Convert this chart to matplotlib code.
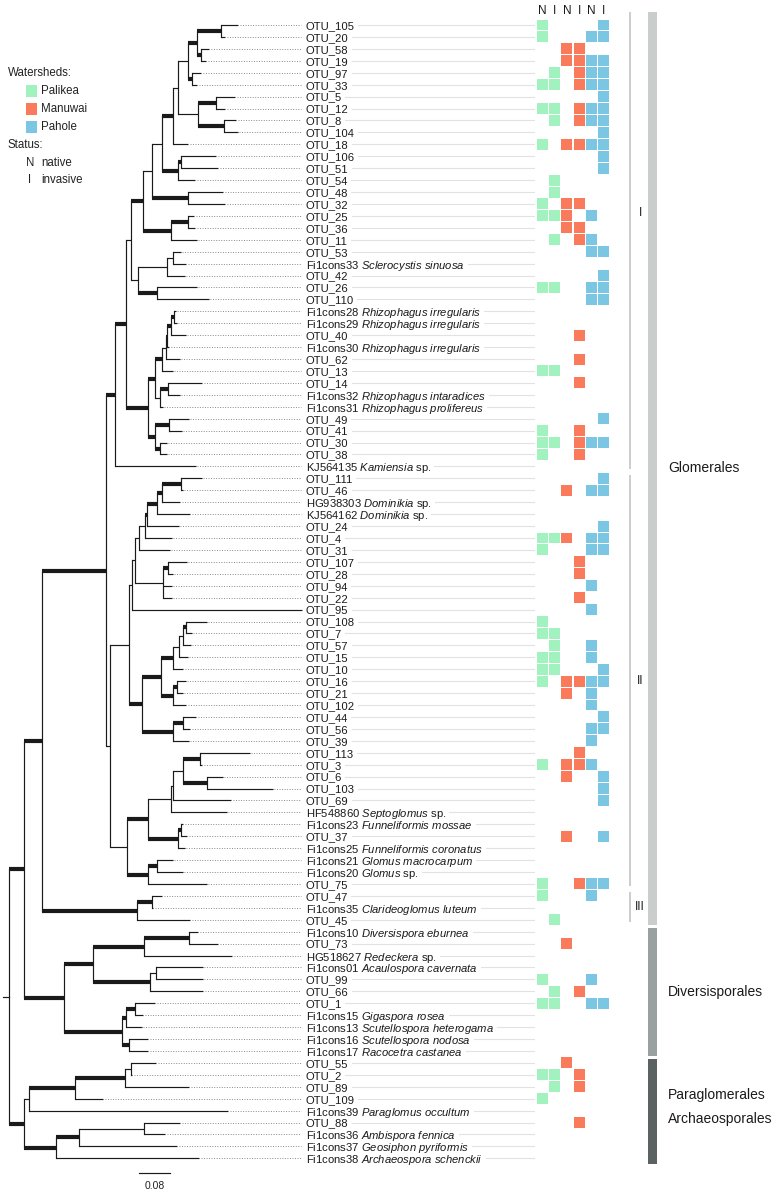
#!/usr/bin/env python3
"""
Phylogeny of AMF OTUs with watershed / status occurrence matrix.
"""

import matplotlib
matplotlib.use("Agg")
import matplotlib.pyplot as plt
from matplotlib.patches import Rectangle
from matplotlib.transforms import blended_transform_factory

plt.rcParams['font.family'] = ['Liberation Sans', 'DejaVu Sans']
plt.rcParams['mathtext.fontset'] = 'custom'
plt.rcParams['mathtext.rm'] = 'Liberation Sans'
plt.rcParams['mathtext.it'] = 'Liberation Sans:italic'

# ---- tree data (newick, branch lengths in subst./site, "b" = well supported edge) ----
CLADE_I = (
    "(((((((((((OTU_105:0.044,OTU_20:0.010)b:0.062,(OTU_58:0.021,OTU_19:0.013)b:0.010)b:0.023,"
    "(OTU_97:0.023,OTU_33:0.013)b:0.010):0.028,"
    "((OTU_5:0.049,OTU_12:0.023)b:0.046,(OTU_8:0.031,OTU_104:0.034)b:0.067):0.054):0.013,"
    "OTU_18:0.041)b:0.026,"
    "((OTU_106:0.090,OTU_51:0.095)b:0.010,OTU_54:0.046)b:0.039):0.026,"
    "(OTU_48:0.090,OTU_32:0.095)b:0.093):0.023,"
    "((OTU_25:0.015,OTU_36:0.018)b:0.044,OTU_11:0.065)b:0.072)b:0.031,"
    "(((OTU_53:0.021,Fi1cons33:0.036):0.013,OTU_42:0.044):0.075,"
    "(OTU_26:0.101,OTU_110:0.132)b:0.049):0.018):0.015,"
    "{rhizo})b:0.028,"
    "KJ564135:0.209)b:0.023"
)
RHIZO = (
    "(((((((Fi1cons28:0.005,Fi1cons29:0.008)b:0.008,OTU_40:0.039)b:0.008,Fi1cons30:0.005)b:0.005,"
    "OTU_62:0.036):0.010,OTU_13:0.028)b:0.018,"
    "((OTU_14:0.088,Fi1cons32:0.031)b:0.021,Fi1cons31:0.008):0.013)b:0.018,"
    "((OTU_49:0.052,OTU_41:0.034)b:0.036,(OTU_30:0.018,OTU_38:0.018)b:0.013)b:0.018)b:0.057"
)
CLADE_II = (
    "((((((((((OTU_111:0.052,OTU_46:0.003)b:0.049,HG938303:0.046)b:0.013,KJ564162:0.085)b:0.028,"
    "OTU_24:0.083)b:0.005,OTU_4:0.070):0.015,OTU_31:0.080):0.010,"
    "((OTU_107:0.049,OTU_28:0.013)b:0.013,OTU_94:0.023,OTU_22:0.023):0.072):0.008,"
    "OTU_95:0.439):0.008,"
    "{funnel}):0.049,"
    "{septo}):0.010"
)
FUNNEL = (
    "((((((OTU_108:0.054,OTU_7:0.015)b:0.008,OTU_57:0.021):0.010,OTU_15:0.023):0.015,"
    "OTU_10:0.026)b:0.031,((OTU_16:0.023,OTU_21:0.015)b:0.010,OTU_102:0.034)b:0.031)b:0.049,"
    "((OTU_44:0.034,OTU_56:0.018)b:0.026,OTU_39:0.041)b:0.080)b:0.034"
)
SEPTO = (
    "((((((OTU_113:0.127,OTU_3:0.005)b:0.044,(OTU_6:0.039,OTU_103:0.168)b:0.062):0.028,"
    "OTU_69:0.152):0.005,HF548860:0.145):0.059,"
    "((Fi1cons23:0.005,OTU_37:0.015)b:0.010,Fi1cons25:0.018)b:0.077)b:0.054,"
    "((Fi1cons21:0.041,Fi1cons20:0.067)b:0.023,OTU_75:0.152)b:0.054):0.044"
)
CLADE_III = "((OTU_47:0.026,Fi1cons35:0.003)b:0.039,OTU_45:0.137)b:0.245"
DIVERSI = (
    "((((Fi1cons10:0.023,OTU_73:0.075)b:0.116,HG518627:0.227)b:0.132,"
    "((Fi1cons01:0.121,OTU_99:0.121):0.015,OTU_66:0.137)b:0.147)b:0.075,"
    "(((OTU_1:0.052,Fi1cons15:0.021)b:0.023,Fi1cons13:0.041)b:0.010,"
    "(Fi1cons16:0.049,Fi1cons17:0.049)b:0.018)b:0.150)b:0.103"
)
PARA = "((((OTU_55:0.065,OTU_2:0.003):0.015,OTU_89:0.165)b:0.129,OTU_109:0.072)b:0.119,Fi1cons39:0.514):0.013"
ARCH = "(((OTU_88:0.093,Fi1cons36:0.054):0.168,Fi1cons37:0.253)b:0.059,Fi1cons38:0.369)b:0.083"
BACKBONE = "(((({I},{II})b:0.165,{III})b:0.046,{DIV})b:0.039,({PARA},{ARCH})b:0.039):0.016;"

SPECIES = {
    "Fi1cons33": "Sclerocystis sinuosa", "Fi1cons28": "Rhizophagus irregularis",
    "Fi1cons29": "Rhizophagus irregularis", "Fi1cons30": "Rhizophagus irregularis",
    "Fi1cons32": "Rhizophagus intaradices", "Fi1cons31": "Rhizophagus prolifereus",
    "KJ564135": "Kamiensia sp.", "HG938303": "Dominikia sp.", "KJ564162": "Dominikia sp.",
    "HF548860": "Septoglomus sp.", "Fi1cons23": "Funneliformis mossae",
    "Fi1cons25": "Funneliformis coronatus", "Fi1cons21": "Glomus macrocarpum",
    "Fi1cons20": "Glomus sp.", "Fi1cons35": "Clarideoglomus luteum",
    "Fi1cons10": "Diversispora eburnea", "HG518627": "Redeckera sp.",
    "Fi1cons01": "Acaulospora cavernata", "Fi1cons15": "Gigaspora rosea",
    "Fi1cons13": "Scutellospora heterogama", "Fi1cons16": "Scutellospora nodosa",
    "Fi1cons17": "Racocetra castanea", "Fi1cons39": "Paraglomus occultum",
    "Fi1cons36": "Ambispora fennica", "Fi1cons37": "Geosiphon pyriformis",
    "Fi1cons38": "Archaeospora schenckii",
}

# ---- occurrence: Palikea N/I, Manuwai N/I, Pahole N/I ----
COLUMNS = ["N", "I", "N", "I", "N", "I"]
WATERSHEDS = ["Palikea", "Manuwai", "Pahole"]
WS_COLORS = ["#a2f2c0", "#fa7b5c", "#7bc6e2"]
OCCURRENCE = {
    "OTU_105": "100001", "OTU_20": "100011", "OTU_58": "001100", "OTU_19": "001111",
    "OTU_97": "010111", "OTU_33": "110111", "OTU_5": "000001", "OTU_12": "110111",
    "OTU_8": "010111", "OTU_104": "000001", "OTU_18": "101111", "OTU_106": "000001",
    "OTU_51": "000001", "OTU_54": "010000", "OTU_48": "010000", "OTU_32": "101100",
    "OTU_25": "111010", "OTU_36": "001100", "OTU_11": "010110", "OTU_53": "000011",
    "OTU_42": "000001", "OTU_26": "110011", "OTU_110": "000011", "OTU_40": "000100",
    "OTU_62": "000100", "OTU_13": "110000", "OTU_14": "000100", "OTU_49": "000001",
    "OTU_41": "100100", "OTU_30": "110111", "OTU_38": "100100", "OTU_111": "000001",
    "OTU_46": "001011", "OTU_24": "000001", "OTU_4": "111011", "OTU_31": "100011",
    "OTU_107": "000100", "OTU_28": "000100", "OTU_94": "000010", "OTU_22": "000100",
    "OTU_95": "000010", "OTU_108": "100000", "OTU_7": "110000", "OTU_57": "010010",
    "OTU_15": "110010", "OTU_10": "110001", "OTU_16": "101111", "OTU_21": "001010",
    "OTU_102": "000010", "OTU_44": "000001", "OTU_56": "000011", "OTU_39": "000010",
    "OTU_113": "000100", "OTU_3": "101110", "OTU_6": "001001", "OTU_103": "000001",
    "OTU_69": "000001", "OTU_37": "001001", "OTU_75": "100111", "OTU_47": "100010",
    "OTU_45": "010000", "OTU_73": "001000", "OTU_99": "100010", "OTU_66": "010100",
    "OTU_1": "110011", "OTU_55": "001000", "OTU_2": "110100", "OTU_89": "010100",
    "OTU_109": "100000", "OTU_88": "000100",
}

# ---- clade annotation (first tip, last tip) ----
ORDERS = [("Glomerales", "OTU_105", "OTU_45", "#c9cecc"),
          ("Diversisporales", "Fi1cons10", "Fi1cons17", "#98a19f"),
          ("", "OTU_55", "Fi1cons38", "#5b6362")]
ORDER_LABELS = [("Paraglomerales", "OTU_109"), ("Archaeosporales", "OTU_88")]
SUBCLADES = [("I", "OTU_105", "KJ564135"), ("II", "OTU_111", "OTU_75"),
             ("III", "OTU_47", "OTU_45")]
SCALE_LEN = 0.08

# ---- layout (pixels of the 782 x 1192 canvas) ----
W, H = 782, 1192
PX_UNIT = 387.5          # pixels per substitution unit
ROOT_PX = 9
ROW0_PX, ROW_PX = 25, 11.93
THIN, BOLD = 0.85, 3.0
LINE_C = "#1a1a1a"
TIP_FS = 8.1


def parse_newick(s):
    s = s.strip().rstrip(';')
    pos = 0

    def node():
        nonlocal pos
        n = {'children': [], 'name': '', 'len': 0.0}
        if s[pos] == '(':
            pos += 1
            while True:
                n['children'].append(node())
                if s[pos] == ',':
                    pos += 1
                    continue
                pos += 1
                break
        start = pos
        while pos < len(s) and s[pos] not in ',():':
            pos += 1
        n['name'] = s[start:pos]
        if pos < len(s) and s[pos] == ':':
            pos += 1
            start = pos
            while pos < len(s) and s[pos] not in ',()':
                pos += 1
            n['len'] = float(s[start:pos])
        return n
    tree = node()
    assert pos == len(s), "unbalanced newick"
    return tree


def place(node, x, tips):
    node['x'] = x
    if node['children']:
        for ch in node['children']:
            place(ch, x + ch['len'], tips)
        node['y'] = (node['children'][0]['y'] + node['children'][-1]['y']) / 2
    else:
        node['y'] = len(tips)
        tips.append(node)


def draw_edges(ax, node):
    for ch in node['children']:
        lw = BOLD if ch['name'] == 'b' else THIN
        ax.plot([node['x'], ch['x']], [ch['y'], ch['y']], color=LINE_C, lw=lw,
                solid_capstyle='butt', zorder=3)
        draw_edges(ax, ch)
    if node['children']:
        ax.plot([node['x'], node['x']], [node['children'][0]['y'], node['children'][-1]['y']],
                color=LINE_C, lw=THIN, solid_capstyle='projecting', zorder=2)


def tip_text(name):
    sp = SPECIES.get(name)
    if sp is None:
        return name
    if sp.endswith(" sp."):
        return name + r" $\mathit{" + sp[:-4] + r"}$ sp."
    return name + r" $\mathit{" + sp.replace(" ", r"\ ") + r"}$"


def plot_tree():
    newick = BACKBONE.format(I=CLADE_I.format(rhizo=RHIZO),
                             II=CLADE_II.format(funnel=FUNNEL, septo=SEPTO),
                             III=CLADE_III, DIV=DIVERSI, PARA=PARA, ARCH=ARCH)
    root = parse_newick(newick)
    tips = []
    place(root, 0.0, tips)
    row_of = {t['name']: t['y'] for t in tips}
    n_rows = len(tips)

    fig = plt.figure(figsize=(W / 100, H / 100), dpi=100)
    top_px = ROW0_PX - ROW_PX / 2
    bot_px = top_px + n_rows * ROW_PX
    ax_rect = [0, 1 - bot_px / H, 1, (bot_px - top_px) / H]
    ax = fig.add_axes(ax_rect)
    ax.set_xlim(-ROOT_PX / PX_UNIT, (W - ROOT_PX) / PX_UNIT)
    ax.set_ylim(n_rows - 0.5, -0.5)
    ax.axis('off')

    def ux(px):
        return (px - ROOT_PX) / PX_UNIT

    # tree
    ax.plot([-root['len'], 0], [root['y'], root['y']], color=LINE_C, lw=THIN, zorder=3)
    draw_edges(ax, root)

    dot_end, label_x, link_end = ux(301), ux(306), ux(534)
    texts = []
    for t in tips:
        if t['x'] < dot_end:
            ax.plot([t['x'] + 0.004, dot_end], [t['y'], t['y']], color="#8a8a8a", lw=0.7,
                    linestyle=(0, (1.0, 1.6)), zorder=1)
        txt = ax.text(label_x, t['y'], tip_text(t['name']), fontsize=TIP_FS, color="#1a1a1a",
                      va='center_baseline', ha='left')
        texts.append((txt, t['y']))

    # scale bar
    sb_x = ux(139)
    ax.plot([sb_x, sb_x + SCALE_LEN], [96.2, 96.2], color=LINE_C, lw=THIN, clip_on=False)
    ax.text(sb_x + SCALE_LEN / 2, 97.35, f"{SCALE_LEN:.2f}", fontsize=7.5, ha='center',
            va='center', color="#222222")

    # light guide lines from labels to matrix
    fig.canvas.draw()
    inv = ax.transData.inverted()
    for txt, y in texts:
        bb = txt.get_window_extent()
        x0 = inv.transform((bb.x1 + 3, 0))[0]
        ax.plot([x0, link_end], [y, y], color="#e2e2e2", lw=0.8, zorder=1)

    # occurrence matrix
    ax_m = fig.add_axes([536 / W, ax_rect[1], 74 / W, ax_rect[3]])
    ax_m.set_xlim(-0.5, len(COLUMNS) - 0.5)
    ax_m.set_ylim(n_rows - 0.5, -0.5)
    ax_m.axis('off')
    for name, occ in OCCURRENCE.items():
        r = row_of[name]
        for c, flag in enumerate(occ):
            if flag == '1':
                ax_m.add_patch(Rectangle((c - 0.45, r - 0.46), 0.9, 0.92,
                                         facecolor=WS_COLORS[c // 2], edgecolor='none'))
    for c, lab in enumerate(COLUMNS):
        ax_m.text(c, -1.15, lab, fontsize=8.5, ha='center', va='center', color="#1a1a1a",
                  clip_on=False)

    # clade annotations
    tr = blended_transform_factory(fig.transFigure, ax.transData)
    head = -1.1
    for name, first, last, col in ORDERS:
        y0 = head if row_of[first] == 0 else row_of[first] - 0.35
        y1 = row_of[last] + 0.45
        ax.add_patch(Rectangle((648 / W, y0), 9 / W, y1 - y0, transform=tr,
                               facecolor=col, edgecolor='none', clip_on=False))
        if name:
            ax.text(668 / W, (y0 + y1) / 2, name, transform=tr, fontsize=10,
                    va='center', ha='left', color="#1a1a1a")
    for name, tip in ORDER_LABELS:
        ax.text(668 / W, row_of[tip] - 0.3, name, transform=tr, fontsize=10,
                va='center', ha='left', color="#1a1a1a")
    for lab, first, last in SUBCLADES:
        y0 = head if row_of[first] == 0 else row_of[first] - 0.3
        y1 = row_of[last] + 0.2
        ax.plot([630 / W, 630 / W], [y0, y1], transform=tr, color="#c4c4c4", lw=1.2,
                clip_on=False, solid_capstyle='butt')
        ax.text(640 / W, (y0 + y1) / 2 if lab != "I" else 15.8, lab, transform=tr,
                fontsize=8.5, va='center', ha='center', color="#1a1a1a")

    # legend (top left)
    def fx(px):
        return px / W

    def fy(py):
        return 1 - py / H

    fig.text(fx(8), fy(73), "Watersheds:", fontsize=8.3, va='center', color="#222222")
    for i, (ws, col) in enumerate(zip(WATERSHEDS, WS_COLORS)):
        yc = 91 + 18 * i
        fig.patches.append(Rectangle((fx(26), fy(yc + 5.5)), 11 / W, 11 / H,
                                     transform=fig.transFigure, facecolor=col,
                                     edgecolor='none'))
        fig.text(fx(41), fy(yc), ws, fontsize=8.3, va='center', color="#222222")
    fig.text(fx(8), fy(145), "Status:", fontsize=8.3, va='center', color="#222222")
    fig.text(fx(30), fy(163), "N", fontsize=8.3, va='center', ha='center', color="#222222")
    fig.text(fx(41), fy(163), "native", fontsize=8.3, va='center', color="#222222")
    fig.text(fx(30), fy(180), "I", fontsize=8.3, va='center', ha='center', color="#222222")
    fig.text(fx(41), fy(180), "invasive", fontsize=8.3, va='center', color="#222222")

    fig.savefig("out.png", dpi=100)
    plt.close(fig)


if __name__ == "__main__":
    plot_tree()
